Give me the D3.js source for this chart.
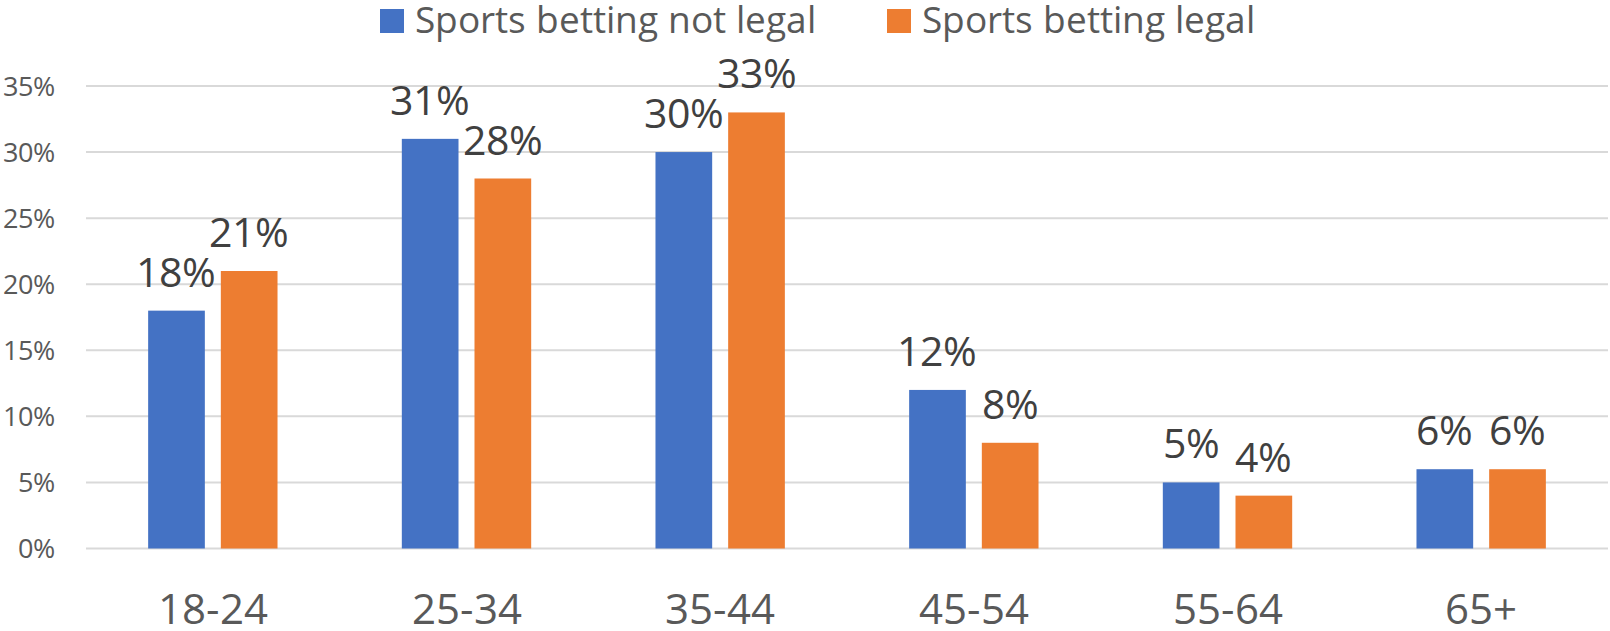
<!DOCTYPE html>
<html>
<head>
<meta charset="utf-8">
<script src="https://cdn.jsdelivr.net/npm/d3@7"></script>
<style>
  /* same Open Sans glyphs, tighter line box so edge labels fit the canvas */
  @font-face {
    font-family: "Open Sans Tight";
    src: local("Open Sans"), local("Open Sans Regular"), local("OpenSans-Regular");
    ascent-override: 85%;
    descent-override: 15%;
  }
  body { margin: 0; background: #fff; }
  svg text { font-family: "Open Sans Tight", "Open Sans", sans-serif; }
</style>
</head>
<body>
<svg class="chart" width="1610" height="631"></svg>
<script>
// data
var ageGroups = ["18-24", "25-34", "35-44", "45-54", "55-64", "65+"];
var seriesNames = ["Sports betting not legal", "Sports betting legal"];
var notLegal = [18, 31, 30, 12, 5, 6];
var legal = [21, 28, 33, 8, 4, 6];
var yTicks = [0, 5, 10, 15, 20, 25, 30, 35];

var colors = ["#4472C4", "#ED7D31"];
var seriesValues = [notLegal, legal];

var svg = d3.select("svg.chart");

// scales
var x0 = d3.scaleBand()
    .domain(ageGroups)
    .range([86, 1608]);

var bw = x0.bandwidth();
var groupW = bw * 0.51;
var x1 = d3.scaleBand()
    .domain(seriesNames)
    .range([(bw - groupW) / 2, (bw + groupW) / 2])
    .paddingInner(0.22);

var y = d3.scaleLinear()
    .domain([0, 35])
    .range([548.5, 86]);

// gridlines
svg.append("g").selectAll("line")
    .data(yTicks)
    .enter()
    .append("line")
    .attr("x1", 86)
    .attr("x2", 1608)
    .attr("y1", function(d) { return y(d); })
    .attr("y2", function(d) { return y(d); })
    .attr("stroke", "#d9d9d9")
    .attr("stroke-width", 2);

// y axis labels
svg.append("g").selectAll("text")
    .data(yTicks)
    .enter()
    .append("text")
    .attr("x", 55)
    .attr("y", function(d) { return y(d); })
    .attr("dy", "0.36em")
    .attr("text-anchor", "end")
    .attr("fill", "#595959")
    .style("font-size", "27px")
    .text(function(d) { return d + "%"; });

// bars
var groups = svg.append("g").selectAll("g")
    .data(ageGroups)
    .enter()
    .append("g")
    .attr("transform", function(d) { return "translate(" + x0(d) + ",0)"; });

var cells = groups.selectAll("g")
    .data(function(d, i) {
        return seriesNames.map(function(s, j) {
            return { series: s, idx: j, value: seriesValues[j][i] };
        });
    })
    .enter()
    .append("g");

cells.append("rect")
    .attr("x", function(d) { return x1(d.series); })
    .attr("width", x1.bandwidth())
    .attr("y", function(d) { return y(d.value); })
    .attr("height", function(d) { return y(0) - y(d.value); })
    .attr("fill", function(d) { return colors[d.idx]; });

// data labels
cells.append("text")
    .attr("x", function(d) { return x1(d.series) + x1.bandwidth() / 2; })
    .attr("y", function(d) { return y(d.value) - 24; })
    .attr("text-anchor", "middle")
    .attr("fill", "#404040")
    .style("font-size", "41px")
    .text(function(d) { return d.value + "%"; });

// x axis labels
svg.append("g").selectAll("text")
    .data(ageGroups)
    .enter()
    .append("text")
    .attr("x", function(d) { return x0(d) + bw / 2; })
    .attr("y", 624)
    .attr("text-anchor", "middle")
    .attr("fill", "#595959")
    .style("font-size", "42px")
    .text(function(d) { return d; });

// legend
var legend = svg.append("g").attr("transform", "translate(380,0)");
var lx = 0;
seriesNames.forEach(function(name, i) {
    var item = legend.append("g").attr("transform", "translate(" + lx + ",0)");
    item.append("rect")
        .attr("x", 0)
        .attr("y", 9)
        .attr("width", 24)
        .attr("height", 24)
        .attr("fill", colors[i]);
    var t = item.append("text")
        .attr("x", 35)
        .attr("y", 33)
        .attr("fill", "#595959")
        .style("font-size", "37px")
        .text(name);
    lx += 35 + t.node().getComputedTextLength() + 71;
});
</script>
</body>
</html>
